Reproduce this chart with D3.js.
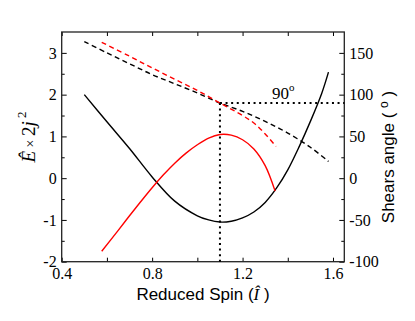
<!DOCTYPE html>
<html>
<head>
<meta charset="utf-8">
<script src="https://cdn.jsdelivr.net/npm/d3@7"></script>
<style>
    body { margin: 0; background: #fff; }
    svg { display: block; }
    .tick line { stroke: #000; stroke-width: 1; }
    .title { font-family: "Liberation Sans", Arial, sans-serif; font-size: 17px; fill: #000; }
</style>
</head>
<body>
<svg id="chart" width="415" height="321"></svg>
<script>
// reduced spin I^ on x, energy (left) and shears angle (right)
const energyBlack = [
    [0.5, 2.0], [0.6, 1.35], [0.7, 0.71], [0.8, 0.03], [0.9, -0.55], [1.0, -0.9],
    [1.05, -1.0], [1.1, -1.05], [1.15, -1.03], [1.2, -0.95], [1.25, -0.81], [1.3, -0.58],
    [1.35, -0.24], [1.4, 0.2], [1.45, 0.75], [1.5, 1.36], [1.55, 2.03], [1.58, 2.54]
];
const energyRed = [
    [0.577, -1.75], [0.65, -1.25], [0.7, -0.9], [0.75, -0.56], [0.8, -0.23], [0.85, 0.08],
    [0.9, 0.36], [0.95, 0.6], [1.0, 0.8], [1.05, 0.96], [1.1, 1.045], [1.15, 1.03],
    [1.2, 0.92], [1.25, 0.7], [1.3, 0.3], [1.344, -0.31]
];
const angleBlack = [
    [0.5, 163.5], [0.6, 150], [0.7, 137], [0.8, 124], [0.9, 113], [1.0, 102],
    [1.1, 90], [1.2, 80], [1.3, 68], [1.4, 54], [1.5, 37], [1.58, 20]
];
const angleRed = [
    [0.577, 162.7], [0.7, 146], [0.8, 132], [0.9, 118.5], [1.0, 105], [1.1, 90],
    [1.2, 75], [1.25, 66], [1.3, 53], [1.348, 38]
];
const markSpin = 1.1;
const markAngle = 90;

const xTicks = [0.4, 0.6, 0.8, 1.0, 1.2, 1.4, 1.6];
const xLabels = [0.4, 0.8, 1.2, 1.6];
const yLeftMajor = [-2, -1, 0, 1, 2, 3];
const yLeftMinor = [-1.5, -0.5, 0.5, 1.5, 2.5];
const yRightMajor = [-100, -50, 0, 50, 100, 150];
const yRightMinor = [-75, -25, 25, 75, 125];

const pl = 61.7, pr = 344.3, pt = 32, pb = 261.7;

const svg = d3.select('#chart');

const x = d3.scaleLinear().domain([0.4, 1.65]).range([pl, pr]);
const yL = d3.scaleLinear().domain([-2, 3.5]).range([pb, pt]);
const yR = d3.scaleLinear().domain([-100, 175]).range([pb, pt]);

function fmt(d) {
    return xLabels.includes(d) ? d.toFixed(1) : '';
}

// axes, ticks pointing inward
svg.append('g').attr('transform', `translate(0,${pb})`)
    .call(d3.axisBottom(x).tickValues(xTicks).tickFormat(fmt).tickSize(-4).tickSizeOuter(0).tickPadding(6));
svg.append('g').attr('transform', `translate(0,${pt})`)
    .call(d3.axisTop(x).tickValues(xTicks).tickFormat('').tickSize(-4).tickSizeOuter(0));

svg.append('g').attr('transform', `translate(${pl},0)`)
    .call(d3.axisLeft(yL).tickValues(yLeftMajor).tickFormat(d => String(d)).tickSize(-5).tickSizeOuter(0).tickPadding(5));
svg.append('g').attr('transform', `translate(${pl},0)`)
    .call(d3.axisLeft(yL).tickValues(yLeftMinor).tickFormat('').tickSize(-3).tickSizeOuter(0));

svg.append('g').attr('transform', `translate(${pr},0)`)
    .call(d3.axisRight(yR).tickValues(yRightMajor).tickFormat(d => String(d)).tickSize(-5).tickSizeOuter(0).tickPadding(5));
svg.append('g').attr('transform', `translate(${pr},0)`)
    .call(d3.axisRight(yR).tickValues(yRightMinor).tickFormat('').tickSize(-3).tickSizeOuter(0));

svg.selectAll('.domain').remove();
svg.selectAll('.tick text')
    .attr('font-family', 'Liberation Serif, serif')
    .attr('font-size', 16)
    .attr('fill', '#000')
    ;

svg.append('rect')
    .attr('x', pl).attr('y', pt)
    .attr('width', pr - pl).attr('height', pb - pt)
    .attr('fill', 'none')
    .attr('stroke', '#222')
    .attr('stroke-width', 1.3)
    ;

// guide lines at 90 degrees
svg.append('line')
    .attr('x1', x(markSpin)).attr('y1', yR(markAngle))
    .attr('x2', x(markSpin)).attr('y2', pb)
    .attr('stroke', '#000').attr('stroke-width', 2)
    .attr('stroke-dasharray', '2,3.6')
    ;
svg.append('line')
    .attr('x1', x(markSpin)).attr('y1', yR(markAngle))
    .attr('x2', pr).attr('y2', yR(markAngle))
    .attr('stroke', '#000').attr('stroke-width', 2)
    .attr('stroke-dasharray', '2,3.6')
    ;

const lineL = d3.line().x(d => x(d[0])).y(d => yL(d[1])).curve(d3.curveCatmullRom.alpha(0.5));
const lineR = d3.line().x(d => x(d[0])).y(d => yR(d[1])).curve(d3.curveCatmullRom.alpha(0.5));

function drawCurve(gen, data, color, dash) {
    svg.append('path')
        .datum(data)
        .attr('d', gen)
        .attr('fill', 'none')
        .attr('stroke', color)
        .attr('stroke-width', 1.4)
        .attr('stroke-dasharray', dash)
        ;
}

drawCurve(lineR, angleBlack, '#000', '5,3.5');
drawCurve(lineR, angleRed, '#f00', '5,3.5');
drawCurve(lineL, energyBlack, '#000', null);
drawCurve(lineL, energyRed, '#f00', null);

// 90° label
const lbl = svg.append('text')
    .attr('x', 272).attr('y', 98.5)
    .attr('font-family', 'Liberation Serif, serif')
    .attr('font-size', 17)
    ;
lbl.append('tspan').text('90');
lbl.append('tspan').attr('font-size', 11).attr('dy', -8).text('o');

// axis titles
const xt = svg.append('text')
    .attr('class', 'title')
    .attr('x', 203).attr('y', 300)
    .attr('text-anchor', 'middle')
    ;
xt.append('tspan').text('Reduced Spin (');
xt.append('tspan').attr('font-family', 'Liberation Serif, serif').attr('font-style', 'italic').text('\u00CE');
xt.append('tspan').text(' )');

const yt = svg.append('text')
    .attr('transform', 'translate(35,137) rotate(-90)')
    .attr('text-anchor', 'middle')
    .attr('font-family', 'Liberation Serif, serif')
    .attr('font-size', 19)
    ;
yt.append('tspan').attr('font-style', 'italic').text('\u00CA');
yt.append('tspan').attr('font-size', 14).text(' \u00D7 ');
yt.append('tspan').text('2');
yt.append('tspan').attr('font-style', 'italic').text('j');
yt.append('tspan').attr('font-size', 13).attr('dy', -9).text(' 2');

const rt = svg.append('text')
    .attr('class', 'title')
    .attr('transform', 'translate(394,157) rotate(-90)')
    .attr('text-anchor', 'middle')
    ;
rt.append('tspan').text('Shears angle ( ');
rt.append('tspan').attr('font-size', 12).attr('dy', -6).text('o');
rt.append('tspan').attr('dy', 6).text(' )');
</script>
</body>
</html>
